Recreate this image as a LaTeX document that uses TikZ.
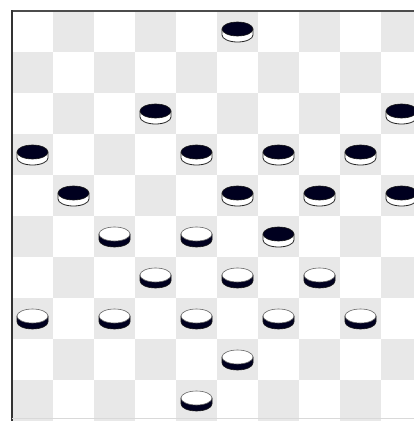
\documentclass[tikz,border=0pt]{standalone}
\begin{document}
\begin{tikzpicture}[x=1pt,y=-1pt,
  sqgray/.style={fill=black!9},
  sidewhite/.style={fill=white,draw=black!85,line width=0.8pt},
  topblack/.style={fill=black!88!blue,draw=black!90,line width=0.6pt},
  sideblack/.style={fill=black!88!blue,draw=black!90,line width=0.6pt},
  topwhite/.style={fill=white,draw=black!60,line width=0.6pt}]
\useasboundingbox (0,0) rectangle (414,421);
\fill[white] (0,0) rectangle (414,421);
\begin{scope}
\clip (0,0) rectangle (414,421);
\foreach \r in {0,...,9}{
  \foreach \c in {0,...,9}{
    \pgfmathparse{int(mod(\r+\c,2))}
    \ifnum\pgfmathresult=1
      \fill[sqgray] ({12+41*\c},{11+41*\r}) rectangle ++(41,41);
    \fi
  }
}
\end{scope}
\draw[black!70,line width=1.6pt] (12,11) -- (414,11);
\draw[black!80,line width=1.6pt] (12,10.2) -- (12,421);
\draw[black!15,line width=0.8pt] (12,418.5) -- (414,418.5);
% black pieces
\foreach \r/\c in {0/5,2/3,2/9,3/0,3/4,3/6,3/8,4/1,4/5,4/7,4/9,5/6}{
  \pgfmathsetmacro\cx{32.5+41*\c}
  \pgfmathsetmacro\cy{32+41*\r}
  \path[sidewhite] (\cx-15.5,\cy-3) -- (\cx-15.5,\cy+3) arc[start angle=180,end angle=0,x radius=15.5,y radius=7] -- (\cx+15.5,\cy-3) -- cycle;
  \path[topblack] (\cx,\cy-3) ellipse[x radius=15.5,y radius=7];
}
% white pieces
\foreach \r/\c in {5/2,5/4,6/3,6/5,6/7,7/0,7/2,7/4,7/6,7/8,8/5,9/4}{
  \pgfmathsetmacro\cx{32.5+41*\c}
  \pgfmathsetmacro\cy{32+41*\r}
  \path[sideblack] (\cx-15.5,\cy-3) -- (\cx-15.5,\cy+3) arc[start angle=180,end angle=0,x radius=15.5,y radius=7] -- (\cx+15.5,\cy-3) -- cycle;
  \path[topwhite] (\cx,\cy-3) ellipse[x radius=15.5,y radius=7];
}
\end{tikzpicture}
\end{document}
